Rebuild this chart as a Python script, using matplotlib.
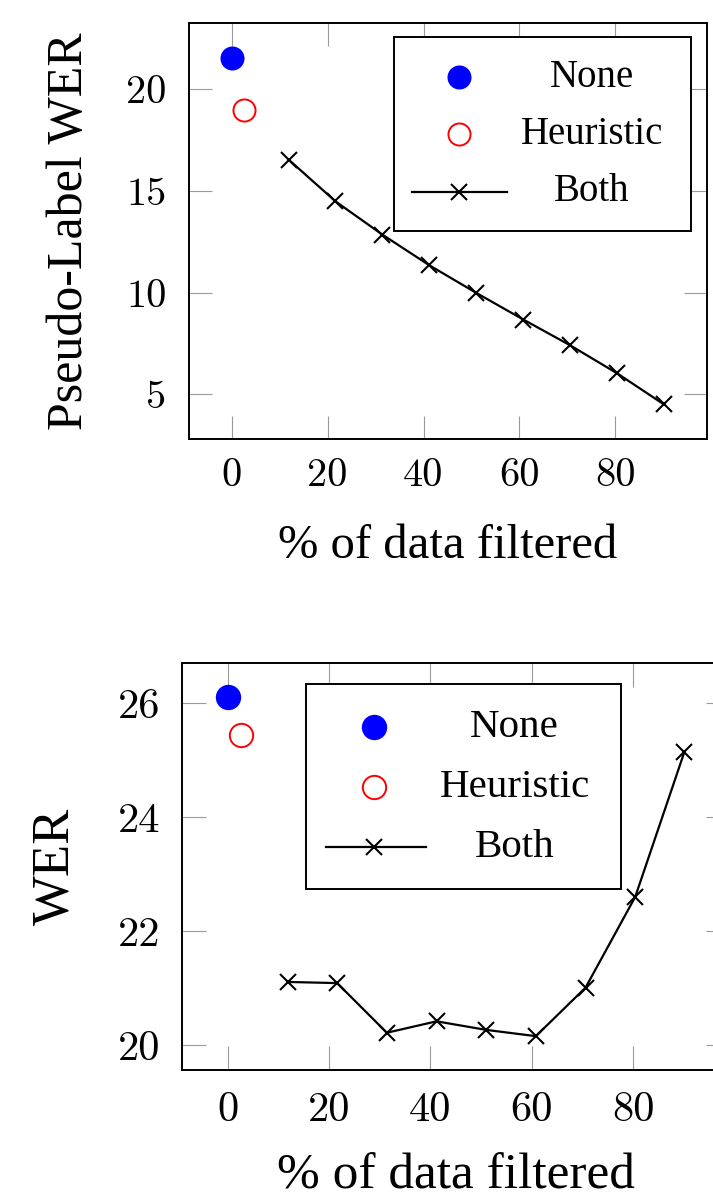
import matplotlib
matplotlib.use("Agg")
import matplotlib.pyplot as plt
from matplotlib.patches import Rectangle

# values
none_x = [0.0]
heur_x = [2.6]
both_x = [11.9, 21.6, 31.4, 41.2, 51.0, 60.8, 70.6, 80.4, 90.1]

none_pl_wer = [21.54]
heur_pl_wer = [18.97]
both_pl_wer = [16.54, 14.50, 12.86, 11.35, 9.99, 8.68, 7.41, 6.03, 4.51]

none_wer = [26.10]
heur_wer = [25.44]
both_wer = [21.11, 21.09, 20.22, 20.42, 20.27, 20.16, 21.01, 22.60, 25.14]

x_ticks = [0, 20, 40, 60, 80]
top_y_ticks = [5, 10, 15, 20]
bottom_y_ticks = [20, 22, 24, 26]
legend_labels = ["None", "Heuristic", "Both"]

TEXT_FONT = "Liberation Serif"
TICK_FONT = "cmr10"
SPINE_LW = 1.4
TICK_GREY = "#9a9a9a"


def series_styles(scale):
    none_style = dict(linestyle="none", marker="o", markersize=17.3 * scale,
                      markerfacecolor="blue", markeredgewidth=0, color="blue")
    heur_style = dict(linestyle="none", marker="o", markersize=15.9 * scale,
                      markerfacecolor="none", markeredgecolor="red",
                      markeredgewidth=1.4, color="red")
    both_style = dict(linestyle="-", linewidth=1.6, color="black", marker="x",
                      markersize=11.2 * scale, markeredgewidth=1.5)
    return none_style, heur_style, both_style


def draw_legend(ax, box, rows_y, marker_x, line_x, text_x, text_dy, fontsize, styles):
    """pgfplots-like legend: framed box, centred labels"""
    x0, y0, x1, y1 = box
    ax.add_patch(Rectangle((x0, y0), x1 - x0, y1 - y0, transform=ax.transAxes,
                           facecolor="white", edgecolor="black", linewidth=SPINE_LW,
                           zorder=5, clip_on=False))
    for label, y, style in zip(legend_labels, rows_y, styles):
        if style["linestyle"] != "none":
            ax.plot(line_x, [y, y], transform=ax.transAxes, color=style["color"],
                    linewidth=style["linewidth"], zorder=6, clip_on=False)
        marker_style = dict(style, linestyle="none")
        ax.plot([marker_x], [y], transform=ax.transAxes, zorder=6, clip_on=False,
                **marker_style)
        ax.text(text_x, y - text_dy, label, transform=ax.transAxes, ha="center",
                va="baseline", fontsize=fontsize, family=TEXT_FONT, zorder=7)


def plot_panel(ax, none_y, heur_y, both_y, y_ticks, ylabel, scale, layout):
    styles = series_styles(scale)
    ax.plot(none_x, none_y, **styles[0])
    ax.plot(heur_x, heur_y, **styles[1])
    ax.plot(both_x, both_y, **styles[2])
    ax.margins(0.1)

    ax.set_xticks(x_ticks)
    ax.set_xticklabels([str(t) for t in x_ticks], family=TICK_FONT, fontsize=29 * scale)
    ax.set_yticks(y_ticks)
    ax.set_yticklabels([str(t) for t in y_ticks], family=TICK_FONT, fontsize=29 * scale)
    ax.tick_params(direction="in", length=16.5 * scale, width=0.8, color=TICK_GREY,
                   top=True, right=True)
    ax.tick_params(axis="x", pad=layout["xpad"])
    ax.tick_params(axis="y", pad=layout["ypad"])
    for spine in ax.spines.values():
        spine.set_linewidth(SPINE_LW)

    ax.set_xlabel("% of data filtered", family=TEXT_FONT, fontsize=35 * scale,
                  va="baseline")
    ax.xaxis.set_label_coords(0.5, layout["xlabel_y"])
    ax.set_ylabel(ylabel, family=TEXT_FONT, fontsize=36 * scale, va="center")
    ax.yaxis.set_label_coords(layout["ylabel_x"], 0.5)

    draw_legend(ax, layout["box"], layout["rows"], layout["marker_x"], layout["line_x"],
                layout["text_x"], layout["text_dy"], 28 * scale, styles)


fig = plt.figure(figsize=(7.13, 11.98), dpi=100)

ax_top = fig.add_axes([0.2644, 0.6336, 0.7272, 0.3468])
plot_panel(ax_top, none_pl_wer, heur_pl_wer, both_pl_wer, top_y_ticks,
           "Pseudo-Label WER", 1.0,
           dict(xpad=13.5, ypad=15.8, xlabel_y=-0.287, ylabel_x=-0.2285,
                box=(0.3963, 0.4999, 0.969, 0.9668),
                rows=(0.8705, 0.734, 0.5952), marker_x=0.5223,
                line_x=(0.4317, 0.6148), text_x=0.7774, text_dy=0.0229))

ax_bottom = fig.add_axes([0.2553, 0.1068, 0.7686, 0.3395])
plot_panel(ax_bottom, none_wer, heur_wer, both_wer, bottom_y_ticks, "WER", 1.056,
           dict(xpad=15.3, ypad=15.8, xlabel_y=-0.291, ylabel_x=-0.2318,
                box=(0.2266, 0.4443, 0.8013, 0.949),
                rows=(0.8441, 0.6966, 0.5476), marker_x=0.3507,
                line_x=(0.2628, 0.4449), text_x=0.6068, text_dy=0.0246))

fig.savefig("out.png", dpi=100)
